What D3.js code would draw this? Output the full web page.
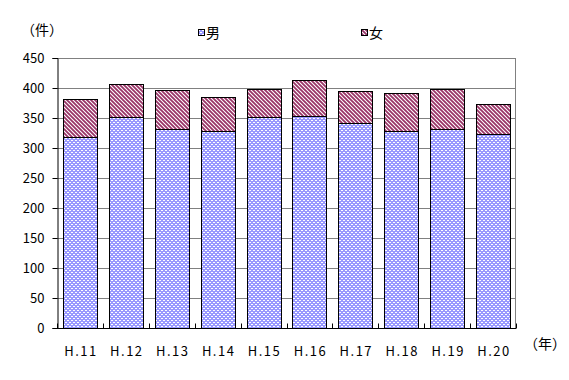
<!DOCTYPE html>
<html>
<head>
<meta charset="utf-8">
<script src="https://cdn.jsdelivr.net/npm/d3@7"></script>
<style>
body { margin: 0; background: #fff; }
text { font-family: "Noto Sans CJK JP", "DejaVu Sans", sans-serif; }
</style>
</head>
<body>
<div id="chart-area"></div>
<script>
var years = ["H.11", "H.12", "H.13", "H.14", "H.15", "H.16", "H.17", "H.18", "H.19", "H.20"];
var male = [318, 352, 331, 329, 351, 354, 341, 329, 332, 324];
var total = [382, 406, 396, 385, 398, 413, 395, 391, 398, 374];
var female = total.map(function(t, i) { return t - male[i]; });
var yTicks = [0, 50, 100, 150, 200, 250, 300, 350, 400, 450];

var margin = {left: 57, right: 53, top: 58, bottom: 52};
var width = 569 - margin.left - margin.right;
var height = 380 - margin.top - margin.bottom;

var svg = d3.select("#chart-area")
    .append("svg")
        .attr("width", 569)
        .attr("height", 380);

// patterns
var defs = svg.append("defs");
var pm = defs.append("pattern")
    .attr("id", "pMale")
    .attr("patternUnits", "userSpaceOnUse")
    .attr("width", 4).attr("height", 4);
pm.append("rect").attr("width", 4).attr("height", 4).attr("fill", "#9999ff");
pm.append("rect").attr("x", 0).attr("y", 0).attr("width", 2).attr("height", 1).attr("fill", "#fff");
pm.append("rect").attr("x", 2).attr("y", 2).attr("width", 2).attr("height", 1).attr("fill", "#fff");

var pf = defs.append("pattern")
    .attr("id", "pFemale")
    .attr("patternUnits", "userSpaceOnUse")
    .attr("width", 4).attr("height", 4);
pf.append("rect").attr("width", 4).attr("height", 4).attr("fill", "#fff");
pf.append("path")
    .attr("d", "M-1,-1 L5,5 M-1,3 L1,5 M3,-1 L5,1")
    .attr("stroke", "#993366")
    .attr("stroke-width", 1.8);

var g = svg.append("g")
    .attr("transform", "translate(" + margin.left + ", " + margin.top + ")");

var x = d3.scaleBand()
    .domain(years)
    .range([0, width])
    .paddingInner(0.26)
    .paddingOuter(0.13);

var y = d3.scaleLinear()
    .domain([0, 450])
    .range([height, 0]);

// grid
g.selectAll(".grid")
    .data(yTicks.slice(1))
    .enter()
    .append("line")
    .attr("x1", 0).attr("x2", width)
    .attr("y1", function(d) { return Math.round(y(d)) + 0.5; })
    .attr("y2", function(d) { return Math.round(y(d)) + 0.5; })
    .attr("stroke", "#808080");

g.append("line")
    .attr("x1", width - 0.5).attr("x2", width - 0.5)
    .attr("y1", 0).attr("y2", height)
    .attr("stroke", "#808080");

// bars
g.selectAll(".male")
    .data(years)
    .enter()
    .append("rect")
    .attr("x", function(d) { return Math.round(x(d)) + 0.5; })
    .attr("y", function(d, i) { return Math.round(y(male[i])) + 0.5; })
    .attr("width", Math.round(x.bandwidth()))
    .attr("height", function(d, i) { return Math.round(height - y(male[i])); })
    .attr("fill", "url(#pMale)")
    .attr("stroke", "#000");

g.selectAll(".female")
    .data(years)
    .enter()
    .append("rect")
    .attr("x", function(d) { return Math.round(x(d)) + 0.5; })
    .attr("y", function(d, i) { return Math.round(y(total[i])) + 0.5; })
    .attr("width", Math.round(x.bandwidth()))
    .attr("height", function(d, i) { return Math.round(y(male[i])) - Math.round(y(total[i])); })
    .attr("fill", "url(#pFemale)")
    .attr("stroke", "#000");

// y axis
var yAxis = d3.axisLeft(y).tickValues(yTicks).tickSize(5).tickPadding(8);
var ya = g.append("g")
    .attr("class", "y axis")
    .attr("transform", "translate(0.5, 0)")
    .call(yAxis);
ya.select(".domain").attr("stroke", "#000");
ya.selectAll("text").attr("font-size", "13px").attr("fill", "#000");

// x axis: ticks at category boundaries pointing up
var xa = g.append("g")
    .attr("class", "x axis")
    .attr("transform", "translate(0, " + (height + 0.5) + ")");
xa.append("line")
    .attr("x1", 0).attr("x2", width)
    .attr("stroke", "#000");
xa.selectAll(".tk")
    .data(d3.range(years.length + 1))
    .enter()
    .append("line")
    .attr("x1", function(i) { return Math.round(i * width / years.length) + 0.5; })
    .attr("x2", function(i) { return Math.round(i * width / years.length) + 0.5; })
    .attr("y1", 0).attr("y2", -5)
    .attr("stroke", "#000");
xa.selectAll(".lbl")
    .data(years)
    .enter()
    .append("text")
    .attr("x", function(d) { return x(d) + x.bandwidth() / 2 + 1; })
    .attr("y", 27)
    .attr("text-anchor", "middle")
    .attr("font-size", "13px")
    .attr("letter-spacing", "1.5px")
    .text(function(d) { return d; });

// unit labels
svg.append("text")
    .attr("x", 21).attr("y", 35)
    .attr("font-size", "14px")
    .text("（件）");
svg.append("text")
    .attr("x", 524).attr("y", 349)
    .attr("font-size", "14px")
    .text("（年）");

// legend
var legend = [["男", "url(#pMale)", 198], ["女", "url(#pFemale)", 361]];
legend.forEach(function(l) {
    svg.append("rect")
        .attr("x", l[2] + 0.5).attr("y", 29.5)
        .attr("width", 6).attr("height", 6)
        .attr("fill", l[1])
        .attr("stroke", "#000");
    svg.append("text")
        .attr("x", l[2] + 8).attr("y", 38)
        .attr("font-size", "14px")
        .text(l[0]);
});
</script>
</body>
</html>
